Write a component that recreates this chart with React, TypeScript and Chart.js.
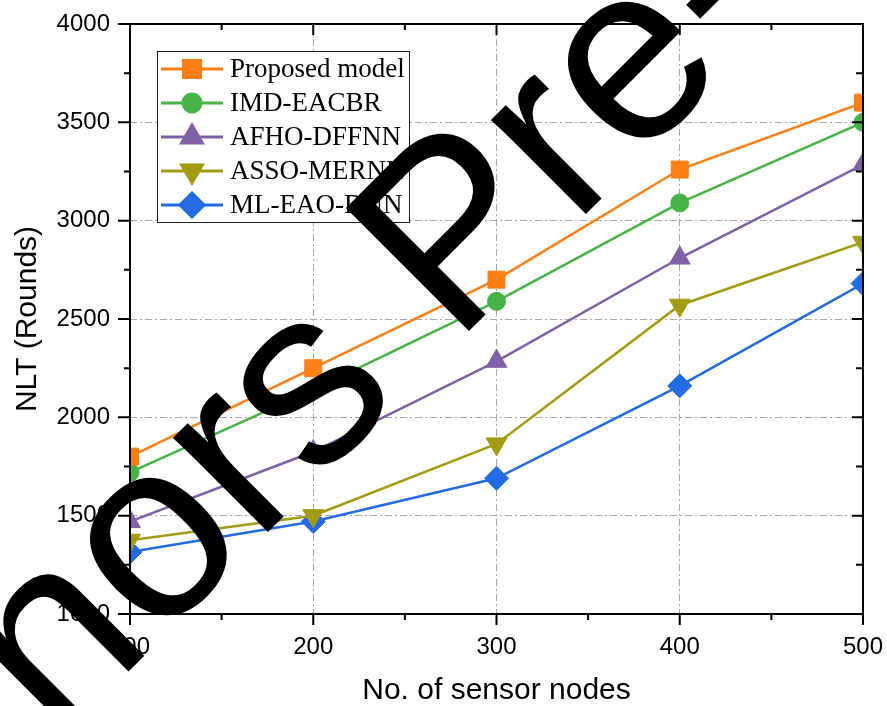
import React, { useEffect, useRef } from 'react';
import { Chart, registerables } from 'chart.js';
import { drawPoint } from 'chart.js/helpers';

Chart.register(...registerables);

// ---- data ----
const sensorNodes = [100, 200, 300, 400, 500];
const proposedModel = [1800, 2250, 2700, 3260, 3600];
const imdEacbr = [1720, 2140, 2590, 3090, 3500];
const afhoDffnn = [1470, 1825, 2285, 2810, 3285];
const assoMernn = [1375, 1500, 1865, 2570, 2890];
const mlEaoDnn = [1315, 1470, 1690, 2160, 2680];
const seriesNames = ['Proposed model', 'IMD-EACBR', 'AFHO-DFFNN', 'ASSO-MERNN', 'ML-EAO-DNN'];
const xMajorTicks = [100, 200, 300, 400, 500];
const xMinorTicks = [150, 250, 350, 450];
const yMajorTicks = [1000, 1500, 2000, 2500, 3000, 3500, 4000];
const yMinorTicks = [1250, 1750, 2250, 2750, 3250, 3750];
const xTitle = 'No. of sensor nodes';
const yTitle = 'NLT (Rounds)';
const watermarkText = 'Authors Pre-Print';

const seriesValues = [proposedModel, imdEacbr, afhoDffnn, assoMernn, mlEaoDnn];
const seriesColors = ['#FF7F15', '#47B347', '#8060A8', '#A39C12', '#226BE3'];
const seriesPointStyles = ['rect', 'circle', 'triangle', 'triangle', 'rectRot'];
const seriesRotations = [0, 0, 0, 180, 0];
const seriesRadius = [12, 9, 12, 12, 12];

const SANS = '"Liberation Sans", Arial, sans-serif';
const SERIF = '"Liberation Serif", "Times New Roman", serif';

const framePlugin = {
  id: 'frameTicksLegend',
  afterDatasetsDraw(chart: any) {
    const { ctx, chartArea, scales } = chart;
    const { left, right, top, bottom } = chartArea;
    const xs = scales.x;
    const ys = scales.y;
    ctx.save();
    // legend
    const bx = 157.5, by = 51.5, bw = 252, bh = 171;
    ctx.fillStyle = '#ffffff';
    ctx.fillRect(bx, by, bw, bh);
    ctx.strokeStyle = '#222';
    ctx.lineWidth = 1;
    ctx.strokeRect(bx, by, bw, bh);
    seriesNames.forEach((name, i) => {
      const cy = 69 + i * 34;
      ctx.strokeStyle = seriesColors[i];
      ctx.fillStyle = seriesColors[i];
      ctx.lineWidth = 3;
      ctx.beginPath();
      ctx.moveTo(161, cy);
      ctx.lineTo(223, cy);
      ctx.stroke();
      drawPoint(ctx, { pointStyle: seriesPointStyles[i], rotation: seriesRotations[i], radius: seriesRadius[i], borderWidth: 1 } as any, 192, cy);
      ctx.fillStyle = '#000';
      ctx.font = '27px ' + SERIF;
      ctx.textBaseline = 'middle';
      ctx.textAlign = 'left';
      ctx.fillText(name, 230, cy + 1);
    });
    // frame
    ctx.strokeStyle = '#000';
    ctx.lineWidth = 2;
    ctx.strokeRect(left, top, right - left, bottom - top);
    ctx.beginPath();
    xMajorTicks.forEach((v) => {
      const px = xs.getPixelForValue(v);
      ctx.moveTo(px, bottom); ctx.lineTo(px, bottom + 11);
      ctx.moveTo(px, top); ctx.lineTo(px, top + 11);
    });
    xMinorTicks.forEach((v) => {
      const px = xs.getPixelForValue(v);
      ctx.moveTo(px, bottom); ctx.lineTo(px, bottom + 6);
      ctx.moveTo(px, top); ctx.lineTo(px, top + 6);
    });
    yMajorTicks.forEach((v) => {
      const py = ys.getPixelForValue(v);
      ctx.moveTo(left, py); ctx.lineTo(left - 12, py);
      ctx.moveTo(right, py); ctx.lineTo(right - 11, py);
    });
    yMinorTicks.forEach((v) => {
      const py = ys.getPixelForValue(v);
      ctx.moveTo(left, py); ctx.lineTo(left - 6, py);
      ctx.moveTo(right, py); ctx.lineTo(right - 7, py);
    });
    ctx.stroke();
    ctx.restore();
  },
  afterDraw(chart: any) {
    const { ctx } = chart;
    ctx.save();
    ctx.translate(-212, 1012);
    ctx.rotate(-Math.PI / 4);
    ctx.font = '253px ' + SANS;
    ctx.fillStyle = '#000';
    ctx.textBaseline = 'alphabetic';
    ctx.textAlign = 'left';
    ctx.fillText(watermarkText, 0, 0);
    ctx.restore();
  },
};

const zeroPad = (s: any) => {
  s.paddingTop = 0;
  s.paddingBottom = 0;
  s.paddingLeft = 0;
  s.paddingRight = 0;
};

export default function App() {
  const canvasRef = useRef<HTMLCanvasElement | null>(null);
  useEffect(() => {
    const canvas = canvasRef.current;
    if (!canvas) return;
    const chart = new Chart(canvas, {
      type: 'line',
      data: {
        datasets: seriesNames.map((name, i) => ({
          label: name,
          data: sensorNodes.map((x, j) => ({ x, y: seriesValues[i][j] })),
          borderColor: seriesColors[i],
          backgroundColor: seriesColors[i],
          borderWidth: 2.5,
          pointStyle: seriesPointStyles[i] as any,
          rotation: seriesRotations[i],
          pointRadius: seriesRadius[i],
          pointBorderWidth: 1,
          pointBorderColor: seriesColors[i],
          pointBackgroundColor: seriesColors[i],
          tension: 0,
          clip: 0,
        })),
      },
      options: {
        animation: false,
        responsive: false,
        devicePixelRatio: 1,
        layout: { padding: { left: 0, right: 24, top: 24, bottom: 0 } },
        plugins: { legend: { display: false }, tooltip: { enabled: false } },
        scales: {
          x: {
            type: 'linear',
            min: 100,
            max: 500,
            afterFit: (s: any) => { s.height = 92; zeroPad(s); },
            afterBuildTicks: (s: any) => { s.ticks = xMajorTicks.map((v) => ({ value: v })); },
            ticks: { color: '#000', font: { family: SANS, size: 24 }, padding: 19, maxRotation: 0, callback: (v: any) => String(v) },
            grid: { color: '#a8a8a8', lineWidth: 1, drawTicks: false },
            border: { display: false, dash: [7, 3, 2, 3] },
            title: { display: true, text: xTitle, color: '#000', font: { family: SANS, size: 30 }, padding: { top: 0, bottom: -3 } },
          },
          y: {
            type: 'linear',
            min: 1000,
            max: 4000,
            afterFit: (s: any) => { s.width = 130; zeroPad(s); },
            afterBuildTicks: (s: any) => { s.ticks = yMajorTicks.map((v) => ({ value: v })); },
            ticks: { color: '#000', font: { family: SANS, size: 24 }, padding: 20, callback: (v: any) => String(v) },
            grid: { color: '#a8a8a8', lineWidth: 1, drawTicks: false },
            border: { display: false, dash: [7, 3, 2, 3] },
            title: { display: true, text: yTitle, color: '#000', font: { family: SANS, size: 30 }, padding: { top: 10, bottom: 0 } },
          },
        },
      },
      plugins: [framePlugin],
    });
    return () => chart.destroy();
  }, []);
  return (
    <div style={{ position: 'fixed', left: 0, top: 0, width: 887, height: 706, background: '#fff' }}>
      <canvas ref={canvasRef} width={887} height={706} style={{ display: 'block', width: 887, height: 706 }} />
    </div>
  );
}
